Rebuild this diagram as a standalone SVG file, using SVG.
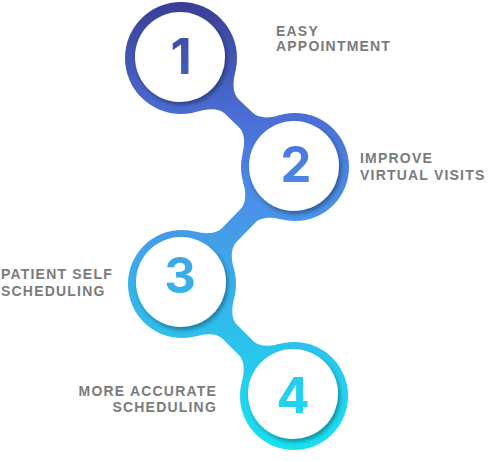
<svg xmlns="http://www.w3.org/2000/svg" width="490" height="462" viewBox="0 0 490 462">
  <defs>
    <linearGradient id="g" gradientUnits="userSpaceOnUse" x1="0" y1="0" x2="0" y2="452">
      <stop offset="0" stop-color="#3a3d92"/>
      <stop offset="0.25" stop-color="#4a6dd4"/>
      <stop offset="0.45" stop-color="#4b8fe8"/>
      <stop offset="0.62" stop-color="#38afe9"/>
      <stop offset="1" stop-color="#17e3f2"/>
    </linearGradient>
    <filter id="sh" x="-20%" y="-20%" width="150%" height="150%">
      <feDropShadow dx="2" dy="3" stdDeviation="2" flood-color="#000" flood-opacity="0.35"/>
    </filter>
    <style>
      .ring { fill: url(#g); }
      .hole { fill: #ffffff; filter: url(#sh); }
      .num { fill: url(#g); font-family: Inter, "Liberation Sans", sans-serif; font-weight: 700; font-size: 49px; text-anchor: middle; }
      .lbl { fill: #7b7b7b; font-family: "Liberation Sans", Arial, sans-serif; font-weight: 700; font-size: 14px; letter-spacing: 1.2px; }
    </style>
  </defs>
  <rect width="490" height="462" fill="#ffffff"/>
  <g id="connectors" class="ring">
    <path d="M196.7,111.8 C206.3,109.0 218.2,107.4 224.7,113.6 L238.9,127.2 C245.4,133.5 244.9,144.5 242.5,154.2 L279.9,115.2 C270.3,118.0 259.3,119.0 252.8,112.8 L238.5,99.2 C232.0,92.9 233.0,81.0 235.4,71.3 Z"/>
    <path d="M243.1,181.9 C245.9,191.5 246.8,202.5 240.6,209.0 L222.1,228.1 C215.8,234.6 204.8,234.0 195.1,231.6 L233.9,269.1 C231.2,259.5 230.2,248.5 236.4,242.0 L255.0,222.9 C261.2,216.4 272.2,217.0 281.9,219.4 Z"/>
    <path d="M196.0,336.2 C205.6,333.6 216.7,332.8 223.0,339.2 L238.8,355.0 C245.2,361.4 244.4,372.4 241.8,382.0 L280.0,343.8 C270.4,346.4 259.4,347.2 253.0,340.8 L237.2,325.0 C230.8,318.7 231.6,307.6 234.2,298.0 Z"/>
  </g>
  <g id="node1">
    <circle class="ring" cx="181" cy="58" r="56"/>
    <circle class="hole" cx="180" cy="57" r="45"/>
    <text class="num" x="181" y="74">1</text>
    <text class="lbl" x="276" y="36">EASY</text>
    <text class="lbl" x="276" y="51">APPOINTMENT</text>
  </g>
  <g id="node2">
    <circle class="ring" cx="295" cy="167" r="54"/>
    <circle class="hole" cx="294" cy="166" r="45"/>
    <text class="num" x="296" y="182">2</text>
    <text class="lbl" x="360" y="163">IMPROVE</text>
    <text class="lbl" x="360" y="180">VIRTUAL VISITS</text>
  </g>
  <g id="node3">
    <circle class="ring" cx="182" cy="284" r="54"/>
    <circle class="hole" cx="181" cy="282" r="45"/>
    <text class="num" x="180" y="293">3</text>
    <text class="lbl" x="1" y="279">PATIENT SELF</text>
    <text class="lbl" x="1" y="296">SCHEDULING</text>
  </g>
  <g id="node4">
    <circle class="ring" cx="294" cy="396" r="54"/>
    <circle class="hole" cx="293" cy="394" r="45"/>
    <text class="num" x="293" y="413">4</text>
    <text class="lbl" x="217" y="396" text-anchor="end">MORE ACCURATE</text>
    <text class="lbl" x="217" y="412" text-anchor="end">SCHEDULING</text>
  </g>
</svg>
